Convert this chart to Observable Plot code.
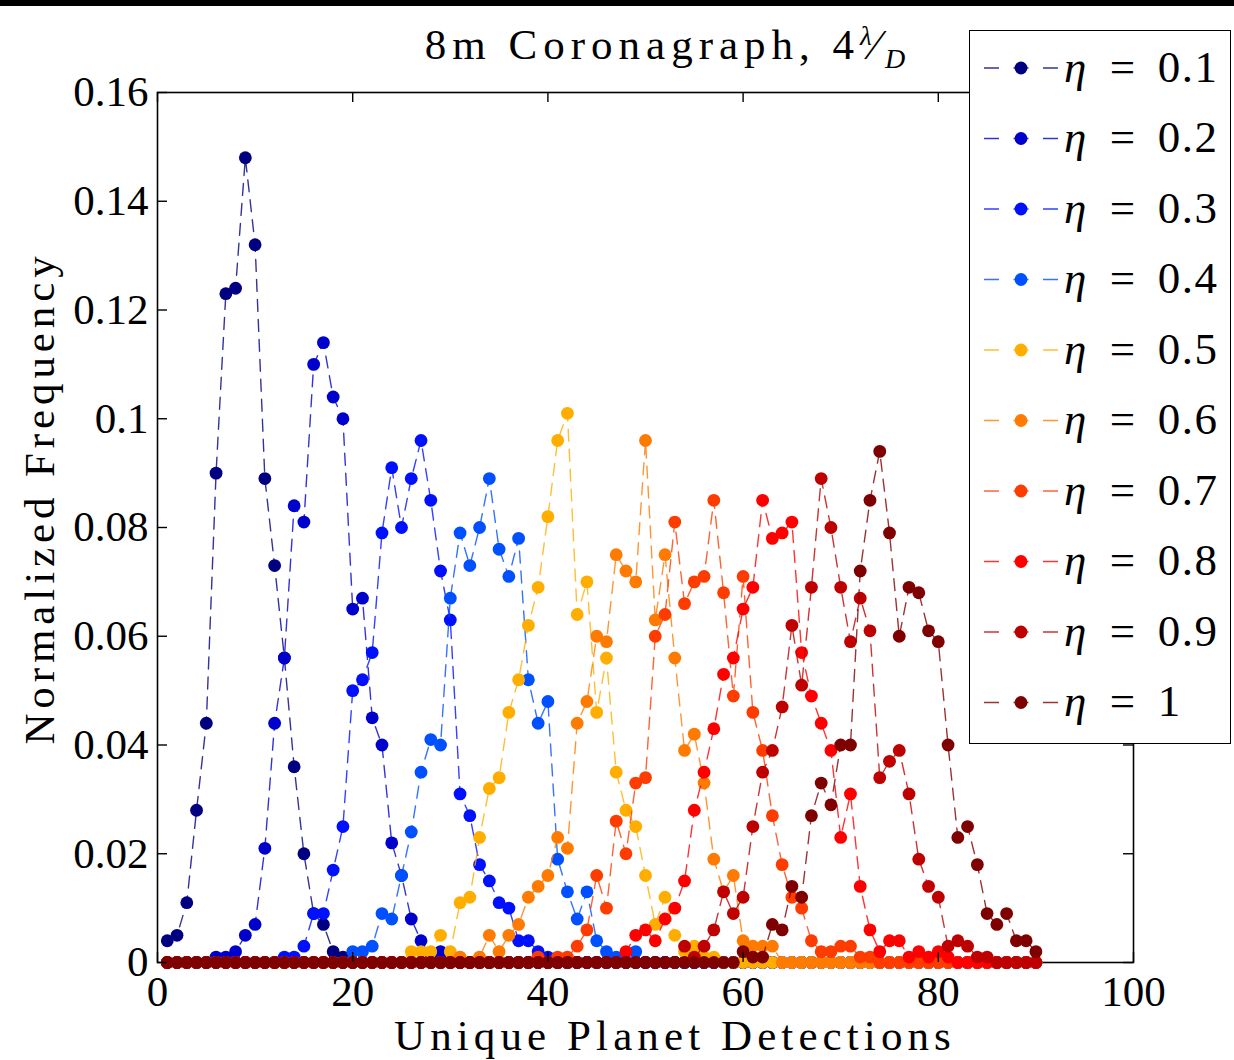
<!DOCTYPE html>
<html><head><meta charset="utf-8">
<script src="https://cdn.jsdelivr.net/npm/d3@7"></script>
<script src="https://cdn.jsdelivr.net/npm/@observablehq/plot@0.6"></script>
<style>
body{margin:0;background:#fff;}
#wrap{position:relative;width:1234px;height:1060px;overflow:hidden;font-family:"Liberation Serif",serif;color:#000;}
#topbar{position:absolute;left:0;top:0;width:1234px;height:6px;background:#000;}
#chart{position:absolute;left:0;top:0;}
.txt{position:absolute;white-space:nowrap;}
#title{left:665px;top:26px;transform:translateX(-50%);font-size:43px;line-height:0.75;letter-spacing:6px;}
#title sup{font-size:27px;font-style:italic;vertical-align:14px;letter-spacing:0;}
#title sub{font-size:28px;font-style:italic;vertical-align:-9px;letter-spacing:0;}
#xlabel{left:675px;top:1020px;transform:translateX(-50%);font-size:43px;line-height:0.75;letter-spacing:5.1px;}
#ylabel{left:40px;top:498px;transform:translate(-50%,-50%) rotate(-90deg);font-size:43px;line-height:0.75;letter-spacing:4.9px;}
#legend{position:absolute;left:969px;top:30px;width:262px;height:714px;border:1.5px solid #000;background:#fff;box-sizing:border-box;}
#legend .lab{position:absolute;left:94px;font-size:45px;line-height:0.75;transform:translateY(-50%);white-space:nowrap;letter-spacing:1.5px;}
#legend .lab i{margin-right:22px;}
#legend .lab .eq{margin-right:21px;}
</style>
</head><body>
<div id="wrap">
  <div id="chart"></div>
  <div id="topbar"></div>
  <div class="txt" id="title">8m Coronagraph, 4<sup>λ</sup>⁄<sub>D</sub></div>
  <div class="txt" id="xlabel">Unique Planet Detections</div>
  <div class="txt" id="ylabel">Normalized Frequency</div>
  <div id="legend"></div>
</div>
<script>
// Unique planet detections (x positions of the points)
const detections = [1,2,3,4,5,6,7,8,9,10,11,12,13,14,15,16,17,18,19,20,21,22,23,24,25,26,27,28,29,30,
  31,32,33,34,35,36,37,38,39,40,41,42,43,44,45,46,47,48,49,50,51,52,53,54,55,56,57,58,59,60,
  61,62,63,64,65,66,67,68,69,70,71,72,73,74,75,76,77,78,79,80,81,82,83,84,85,86,87,88,89,90];

// Normalized frequency per eta (x = 1..90)
const eta01 = [0.004,0.005,0.011,0.028,0.044,0.090,0.123,0.124,0.148,0.132,0.089,0.073,0.056,0.036,0.020,0.009,0.007,0.002,0.001,0,
  0,0,0,0,0,0,0,0,0,0, 0,0,0,0,0,0,0,0,0,0, 0,0,0,0,0,0,0,0,0,0, 0,0,0,0,0,0,0,0,0,0, 0,0,0,0,0,0,0,0,0,0, 0,0,0,0,0,0,0,0,0,0, 0,0,0,0,0,0,0,0,0,0];
const eta02 = [0,0,0,0,0,0.001,0.001,0.002,0.005,0.007,0.021,0.044,0.056,0.084,0.081,0.110,0.114,0.104,0.100,0.065,
  0.067,0.045,0.040,0.022,0.016,0.008,0.004,0.001,0.002,0.001, 0,0,0,0,0,0,0,0,0,0, 0,0,0,0,0,0,0,0,0,0, 0,0,0,0,0,0,0,0,0,0, 0,0,0,0,0,0,0,0,0,0, 0,0,0,0,0,0,0,0,0,0, 0,0,0,0,0,0,0,0,0,0];
const eta03 = [0,0,0,0,0,0,0,0,0,0,0,0,0.001,0.001,0.003,0.009,0.009,0.017,0.025,0.050,
  0.052,0.057,0.079,0.091,0.080,0.089,0.096,0.085,0.072,0.063, 0.031,0.027,0.018,0.015,0.011,0.010,0.004,0.004,0.002,0.001,
  0,0,0,0,0,0,0,0,0,0, 0,0,0,0,0,0,0,0,0,0, 0,0,0,0,0,0,0,0,0,0, 0,0,0,0,0,0,0,0,0,0, 0,0,0,0,0,0,0,0,0,0];
const eta04 = [0,0,0,0,0,0,0,0,0,0,0,0,0,0,0,0,0,0,0,0.002,
  0.002,0.003,0.009,0.008,0.016,0.024,0.035,0.041,0.040,0.067, 0.079,0.073,0.080,0.089,0.076,0.071,0.078,0.052,0.044,0.048,
  0.019,0.013,0.008,0.013,0.004,0.002,0.001,0,0.002,0, 0,0,0,0,0,0,0,0,0,0, 0,0,0,0,0,0,0,0,0,0, 0,0,0,0,0,0,0,0,0,0, 0,0,0,0,0,0,0,0,0,0];
const eta05 = [0,0,0,0,0,0,0,0,0,0,0,0,0,0,0,0,0,0,0,0, 0,0,0,0,0,0.002,0.002,0.002,0.005,0.002,
  0.011,0.012,0.023,0.032,0.034,0.046,0.052,0.062,0.069,0.082, 0.096,0.101,0.064,0.070,0.046,0.056,0.035,0.028,0.025,0.016,
  0.007,0.012,0.005,0.002,0.003,0.001,0.001,0,0,0, 0,0,0,0,0,0,0,0,0,0, 0,0,0,0,0,0,0,0,0,0, 0,0,0,0,0,0,0,0,0,0];
const eta06 = [0,0,0,0,0,0,0,0,0,0,0,0,0,0,0,0,0,0,0,0, 0,0,0,0,0,0,0,0,0,0,
  0.001,0,0.001,0.005,0.002,0.005,0.007,0.012,0.014,0.016, 0.023,0.021,0.044,0.048,0.060,0.059,0.075,0.072,0.070,0.096,
  0.063,0.075,0.056,0.039,0.042,0.033,0.019,0.013,0.016,0.004, 0.003,0.003,0.003,0,0,0,0,0,0,0, 0,0,0,0,0,0,0,0,0,0, 0,0,0,0,0,0,0,0,0,0];
const eta07 = [0,0,0,0,0,0,0,0,0,0,0,0,0,0,0,0,0,0,0,0, 0,0,0,0,0,0,0,0,0,0, 0,0,0,0,0,0,0,0,0.001,0,
  0.001,0.001,0.003,0.006,0.016,0.010,0.026,0.020,0.033,0.034, 0.060,0.064,0.081,0.066,0.070,0.071,0.085,0.068,0.049,0.071,
  0.046,0.039,0.027,0.018,0.012,0.010,0.004,0.002,0.002,0.003, 0.003,0.001,0.001,0,0,0,0,0,0,0, 0,0,0,0,0,0,0,0,0,0];
const eta08 = [0,0,0,0,0,0,0,0,0,0,0,0,0,0,0,0,0,0,0,0, 0,0,0,0,0,0,0,0,0,0, 0,0,0,0,0,0,0,0,0,0,
  0,0,0,0,0,0,0,0.002,0.005,0.006, 0.004,0.008,0.010,0.015,0.028,0.035,0.043,0.053,0.056,0.065,
  0.069,0.085,0.078,0.079,0.081,0.057,0.049,0.044,0.039,0.023, 0.031,0.014,0.006,0.002,0.004,0.004,0.001,0.002,0.001,0.002,
  0.001,0,0,0,0,0,0,0,0,0];
const eta09 = [0,0,0,0,0,0,0,0,0,0,0,0,0,0,0,0,0,0,0,0, 0,0,0,0,0,0,0,0,0,0, 0,0,0,0,0,0,0,0,0,0,
  0,0,0,0,0,0,0,0,0,0, 0,0,0,0.003,0.001,0.003,0.006,0.013,0.009,0.012,
  0.025,0.035,0.039,0.047,0.062,0.051,0.069,0.089,0.080,0.069, 0.059,0.067,0.061,0.034,0.037,0.039,0.031,0.019,0.014,0.012,
  0.003,0.004,0.003,0.001,0.001,0,0,0,0,0];
const eta10 = [0,0,0,0,0,0,0,0,0,0,0,0,0,0,0,0,0,0,0,0, 0,0,0,0,0,0,0,0,0,0, 0,0,0,0,0,0,0,0,0,0,
  0,0,0,0,0,0,0,0,0,0, 0,0,0,0,0,0,0,0,0,0.002,
  0.001,0.001,0.007,0.006,0.014,0.012,0.027,0.033,0.029,0.040, 0.040,0.072,0.085,0.094,0.079,0.060,0.069,0.068,0.061,0.059,
  0.040,0.023,0.025,0.018,0.009,0.007,0.009,0.004,0.004,0.002];

const etaLabels = ["0.1","0.2","0.3","0.4","0.5","0.6","0.7","0.8","0.9","1"];
const seriesValues = [eta01,eta02,eta03,eta04,eta05,eta06,eta07,eta08,eta09,eta10];
const colors = ["#000080","#0000cc","#0010ff","#0050ff","#ffae00","#ff7a00","#ff3c00","#ff0000","#bf0000","#7f0000"];
const xTicks = [0,20,40,60,80,100];
const yTicks = [0,0.02,0.04,0.06,0.08,0.1,0.12,0.14,0.16];

const rows = [];
seriesValues.forEach((vals, i) => vals.forEach((v, j) => rows.push({eta: etaLabels[i], x: detections[j], y: v})));

const plotW = 1234 - 157 - 101, plotH = 1060 - 92 - 98;
const marks = [Plot.frame({stroke: "#000", strokeWidth: 1.6})];
etaLabels.forEach(e => {
  const d = rows.filter(r => r.eta === e);
  marks.push(Plot.line(d, {x: "x", y: "y", stroke: "eta", strokeWidth: 1.4, strokeDasharray: "12,8", strokeOpacity: 0.8}));
  marks.push(Plot.dot(d, {x: "x", y: "y", fill: "eta", r: 6.4}));
});
marks.push(
  Plot.tickX(xTicks, {x: d => d, insetTop: plotH - 10, stroke: "#000", strokeWidth: 1.4}),
  Plot.tickX(xTicks, {x: d => d, insetBottom: plotH - 10, stroke: "#000", strokeWidth: 1.4}),
  Plot.tickY(yTicks, {y: d => d, insetRight: plotW - 10, stroke: "#000", strokeWidth: 1.4}),
  Plot.tickY(yTicks, {y: d => d, insetLeft: plotW - 10, stroke: "#000", strokeWidth: 1.4}),
  Plot.axisX(xTicks, {tickSize: 0, tickPadding: 13, label: null, fontSize: 43, tickFormat: d => String(d)}),
  Plot.axisY(yTicks, {tickSize: 0, tickPadding: 9, label: null, fontSize: 43, tickFormat: d => String(d)})
);

const chart = Plot.plot({
  width: 1234, height: 1060,
  marginLeft: 157, marginRight: 101, marginTop: 92, marginBottom: 98,
  x: {domain: [0, 100]},
  y: {domain: [0, 0.16]},
  color: {domain: etaLabels, range: colors},
  style: {fontFamily: "'Liberation Serif', serif", fontSize: "43px", background: "transparent", color: "#000"},
  marks
});
document.getElementById("chart").appendChild(chart);

// Legend
const legend = d3.select("#legend");
const rowY = i => 38 + 70.5 * i;
const lsvg = legend.append("svg").attr("width", 262).attr("height", 714).style("position", "absolute").style("left", "-1.5px").style("top", "-1.5px");
etaLabels.forEach((e, i) => {
  const y = rowY(i);
  lsvg.append("line").attr("x1", 15).attr("x2", 91).attr("y1", y).attr("y2", y)
    .attr("stroke", colors[i]).attr("stroke-width", 1.4).attr("stroke-dasharray", "15,14.5").attr("stroke-opacity", 0.8);
  lsvg.append("circle").attr("cx", 52).attr("cy", y).attr("r", 6.4).attr("fill", colors[i]);
  legend.append("div").attr("class", "lab").style("top", (y - 1.5) + "px")
    .html(`<i>η</i><span class="eq">=</span>${e}`);
});
</script>
</body></html>
